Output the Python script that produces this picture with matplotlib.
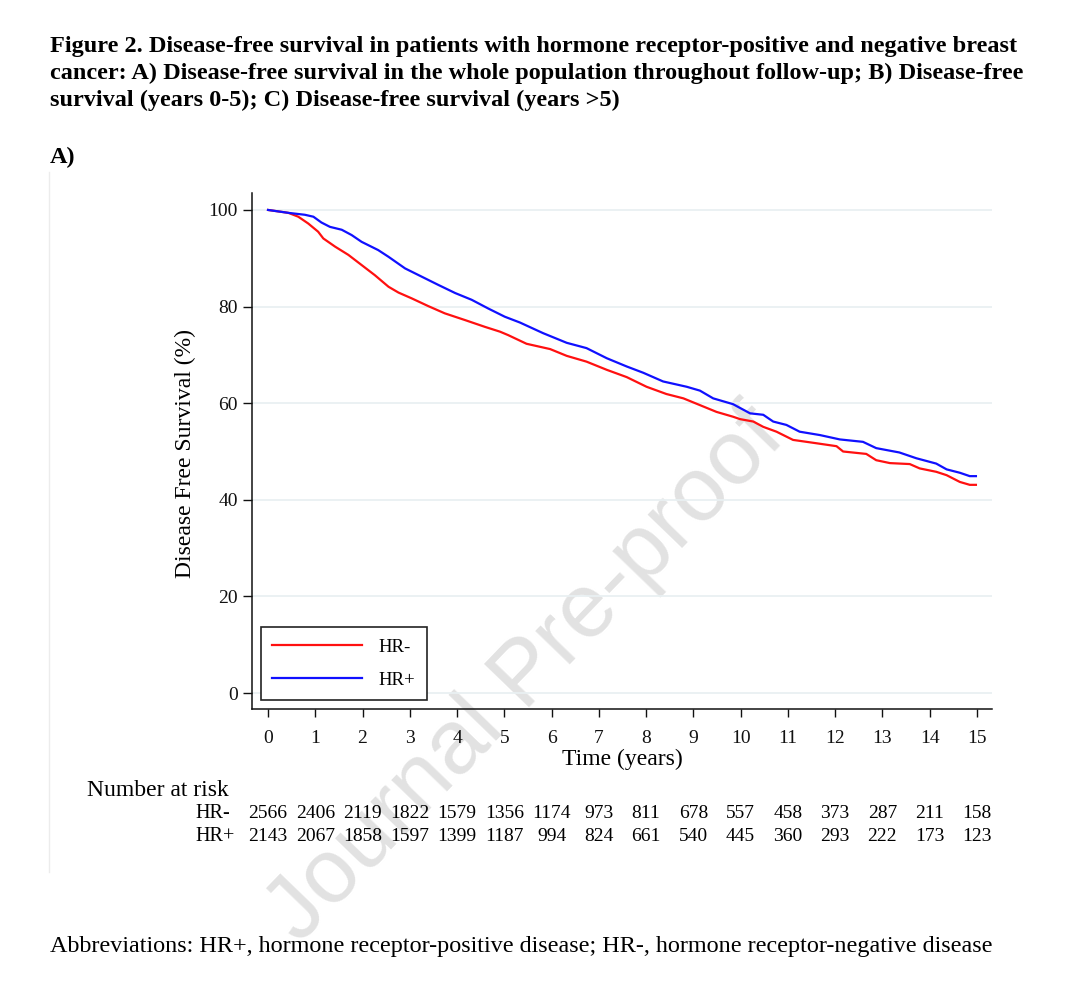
"""Kaplan-Meier style disease-free survival plot, HR- vs HR+."""

import matplotlib

matplotlib.use("Agg")

import matplotlib.pyplot as plt
from matplotlib.lines import Line2D
from matplotlib.transforms import blended_transform_factory

plt.rcParams["font.family"] = ["Liberation Serif", "DejaVu Serif"]

# curve values (years, % disease free)
hr_neg_time = [0, 0.43, 0.64, 0.85, 1.06, 1.17, 1.42, 1.70, 1.98, 2.26, 2.55, 2.76,
               3.04, 3.39, 3.74, 4.17, 4.59, 4.91, 5.08, 5.47, 5.97, 6.32, 6.74, 7.17,
               7.59, 8.01, 8.43, 8.79, 9.14, 9.49, 9.84, 9.99, 10.27, 10.48, 10.76,
               11.11, 11.61, 12.03, 12.17, 12.66, 12.87, 13.16, 13.58, 13.79, 14.14,
               14.36, 14.64, 14.85, 14.98]
hr_neg_surv = [100, 99.4, 98.6, 97.2, 95.5, 94.1, 92.4, 90.7, 88.6, 86.5, 84.1, 82.9,
               81.7, 80.1, 78.6, 77.2, 75.8, 74.8, 74.1, 72.3, 71.2, 69.8, 68.6, 66.9,
               65.4, 63.4, 61.9, 61.0, 59.6, 58.2, 57.2, 56.7, 56.2, 55.1, 54.1,
               52.4, 51.7, 51.1, 50.0, 49.5, 48.2, 47.6, 47.4, 46.5, 45.8,
               45.1, 43.7, 43.1, 43.1]

hr_pos_time = [0, 0.43, 0.78, 0.96, 1.13, 1.31, 1.56, 1.77, 1.98, 2.33, 2.55, 2.90,
               3.25, 3.60, 3.96, 4.31, 4.66, 5.01, 5.33, 5.82, 6.32, 6.74, 7.17, 7.59,
               7.94, 8.36, 8.86, 9.14, 9.42, 9.84, 10.20, 10.48, 10.69, 10.97, 11.25,
               11.68, 12.10, 12.59, 12.87, 13.36, 13.72, 14.14, 14.36, 14.64, 14.85,
               14.98]
hr_pos_surv = [100, 99.4, 99.0, 98.6, 97.4, 96.5, 95.9, 94.8, 93.4, 91.7, 90.3, 87.9,
               86.2, 84.5, 82.8, 81.4, 79.6, 77.9, 76.7, 74.5, 72.5, 71.4, 69.3, 67.6,
               66.3, 64.5, 63.4, 62.6, 61.0, 59.8, 57.9, 57.6, 56.2, 55.5, 54.1,
               53.4, 52.5, 52.0, 50.7, 49.8, 48.6, 47.5, 46.3, 45.6, 44.9,
               44.9]

risk_years = list(range(16))
risk_hr_neg = [2566, 2406, 2119, 1822, 1579, 1356, 1174, 973, 811, 678, 557, 458,
               373, 287, 211, 158]
risk_hr_pos = [2143, 2067, 1858, 1597, 1399, 1187, 994, 824, 661, 540, 445, 360,
               293, 222, 173, 123]

y_ticks = [0, 20, 40, 60, 80, 100]

title_lines = [
    "Figure 2. Disease-free survival in patients with hormone receptor-positive and negative breast",
    "cancer: A) Disease-free survival in the whole population throughout follow-up; B) Disease-free",
    "survival (years 0-5); C) Disease-free survival (years >5)",
]
footnote = ("Abbreviations: HR+, hormone receptor-positive disease; "
            "HR-, hormone receptor-negative disease")

fig = plt.figure(figsize=(10.8, 9.93), dpi=100)
ax = fig.add_axes([0.2333, 0.2860, 0.6852, 0.5196])
ax.set_facecolor("none")

ax.plot(hr_neg_time, hr_neg_surv, color="#ff1010", linewidth=1.6, label="HR-",
        zorder=3)
ax.plot(hr_pos_time, hr_pos_surv, color="#1010ff", linewidth=1.6, label="HR+",
        zorder=3)

ax.set_xlim(-0.34, 15.32)
ax.set_ylim(-3.3, 103.5)
ax.set_xticks(risk_years)
ax.set_yticks(y_ticks)
ax.tick_params(axis="both", labelsize=14, colors="#111111", width=1.0)
ax.tick_params(axis="x", length=5.5, pad=9.5)
ax.tick_params(axis="y", length=6.5, pad=3.5)
ax.grid(axis="y", color="#e9f0f2", linewidth=1.3, zorder=0)
for side in ("top", "right"):
    ax.spines[side].set_visible(False)
for side in ("left", "bottom"):
    ax.spines[side].set_linewidth(1.1)
    ax.spines[side].set_color("#111111")

ax.set_xlabel("Time (years)", fontsize=17)
ax.xaxis.set_label_coords(0.5, -0.078)
ax.set_ylabel("Disease Free Survival (%)", fontsize=17)
ax.yaxis.set_label_coords(-0.075, 0.496)

leg = ax.legend(loc="lower left", bbox_to_anchor=(0.012, 0.017), borderaxespad=0,
                fontsize=13.5, handlelength=4.8, handletextpad=0.85,
                labelspacing=0.85, borderpad=0.62, fancybox=False,
                framealpha=1, edgecolor="#222222")
leg.get_frame().set_linewidth(1.2)

# number at risk table
fig.text(0.0806, 0.2044, "Number at risk", fontsize=17, va="center")
row_tf = blended_transform_factory(ax.transData, fig.transFigure)
for label, counts, y in (("HR-", risk_hr_neg, 0.1803), ("HR+", risk_hr_pos, 0.1571)):
    fig.text(195 / 1080, y, label, fontsize=14.5, ha="left", va="center")
    for year, n in zip(risk_years, counts):
        ax.text(year, y, str(n), transform=row_tf, fontsize=14, ha="center",
                va="center", clip_on=False)

for i, line in enumerate(title_lines):
    fig.text(0.0463, 1 - (52 + 27 * i) / 993, line, fontsize=17.5,
             fontweight="bold", va="baseline")
fig.text(0.0463, 1 - 163 / 993, "A)", fontsize=17.5, fontweight="bold",
         va="baseline")
fig.text(0.0463, 1 - 952 / 993, footnote, fontsize=17.4, va="baseline")

# watermark and the faint panel border
fig.text(0.488, 0.3192, "Journal Pre-proof", fontsize=65.5, rotation=46,
         family="Liberation Sans", color="#e2e2e2", ha="center", va="center",
         zorder=-1)
fig.add_artist(Line2D([0.0454, 0.0454], [1 - 872 / 993, 1 - 172 / 993],
                      transform=fig.transFigure, color="#ececec", linewidth=1.0))

fig.savefig("out.png", dpi=100)
plt.close(fig)
